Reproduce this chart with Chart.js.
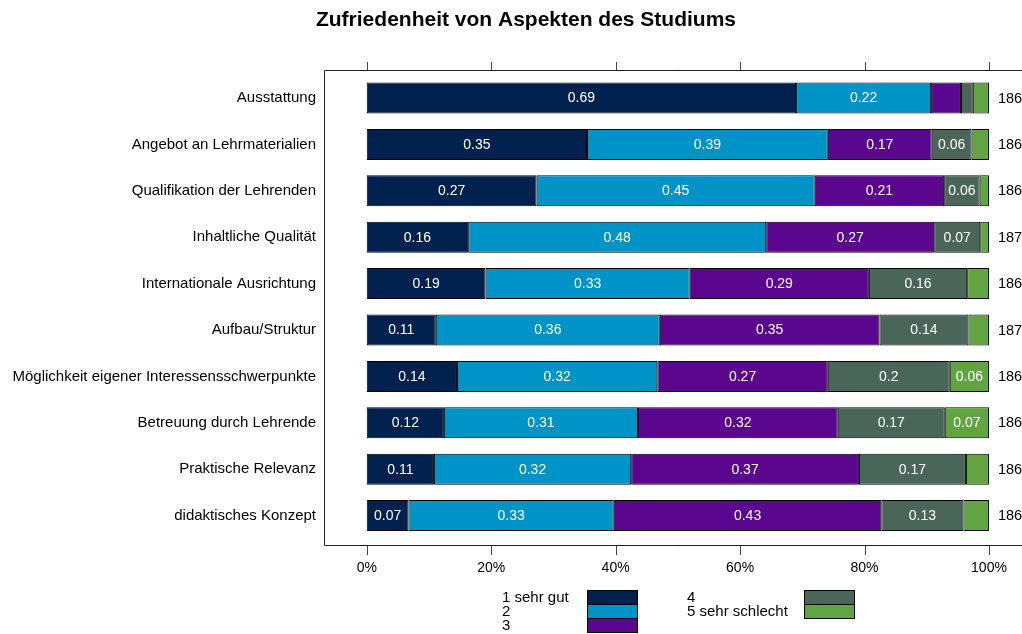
<!DOCTYPE html>
<html><head><meta charset="utf-8">
<script src="https://cdn.jsdelivr.net/npm/chart.js@4/dist/chart.umd.min.js"></script>
<style>html,body{margin:0;padding:0;background:#fff;}</style>
</head><body>
<canvas id="c" width="1022" height="634"></canvas>
<script>
const categories = ['Ausstattung','Angebot an Lehrmaterialien','Qualifikation der Lehrenden','Inhaltliche Qualität','Internationale Ausrichtung','Aufbau/Struktur','Möglichkeit eigener Interessensschwerpunkte','Betreuung durch Lehrende','Praktische Relevanz','didaktisches Konzept'];
const seriesNames = ['1 sehr gut','2','3','4','5 sehr schlecht'];
const s1 = [0.690,0.354,0.273,0.163,0.191,0.111,0.145,0.124,0.108,0.067];
const s2 = [0.217,0.387,0.447,0.479,0.328,0.360,0.322,0.312,0.317,0.330];
const s3 = [0.048,0.167,0.208,0.270,0.288,0.353,0.274,0.321,0.366,0.430];
const s4 = [0.019,0.064,0.057,0.074,0.158,0.143,0.196,0.172,0.172,0.132];
const s5 = [0.026,0.028,0.015,0.014,0.035,0.033,0.063,0.071,0.037,0.041];
const counts = [186,186,186,187,186,187,186,186,186,186];
const xTicks = [0,0.2,0.4,0.6,0.8,1];
const title = 'Zufriedenheit von Aspekten des Studiums';
const colors = ['#00214D','#0093C8','#5A068E','#4A6659','#62A442'];
const FONT = "'Liberation Sans', Arial, sans-serif";

const series = [s1,s2,s3,s4,s5];
const fmt = v => String(Math.round(v*100)/100);

const decor = {
  id: 'decor',
  afterDatasetsDraw(chart) {
    const ctx = chart.ctx;
    const xs = chart.scales.x, ys = chart.scales.y;
    ctx.save();
    // value labels
    ctx.font = '14px ' + FONT;
    ctx.textAlign = 'center';
    ctx.textBaseline = 'middle';
    ctx.fillStyle = '#fff';
    chart.data.datasets.forEach((ds, i) => {
      const meta = chart.getDatasetMeta(i);
      meta.data.forEach((el, j) => {
        const v = ds.data[j];
        if (v >= 0.055) ctx.fillText(fmt(v), (el.x + el.base) / 2, el.y + 0.5);
      });
    });
    // counts
    ctx.fillStyle = '#000';
    ctx.textAlign = 'left';
    ctx.font = '14.5px ' + FONT;
    counts.forEach((n, j) => ctx.fillText(String(n), xs.getPixelForValue(1) + 9, ys.getPixelForValue(j) + 0.5));
    // frame
    const top = ys.getPixelForValue(0) - 28, bottom = ys.getPixelForValue(categories.length - 1) + 29;
    const left = chart.chartArea.left, right = chart.width + 2;
    ctx.strokeStyle = '#222';
    ctx.lineWidth = 1;
    ctx.beginPath();
    ctx.moveTo(right, Math.round(top) + 0.5);
    ctx.lineTo(Math.round(left) + 0.5, Math.round(top) + 0.5);
    ctx.lineTo(Math.round(left) + 0.5, Math.round(bottom) + 0.5);
    ctx.lineTo(right, Math.round(bottom) + 0.5);
    ctx.stroke();
    // tick marks
    ctx.strokeStyle = '#444';
    xTicks.forEach(v => {
      const px = Math.round(xs.getPixelForValue(v)) + 0.5;
      ctx.beginPath();
      ctx.moveTo(px, Math.round(top) - 8); ctx.lineTo(px, Math.round(top));
      ctx.moveTo(px, Math.round(bottom) + 1); ctx.lineTo(px, Math.round(bottom) + 10);
      ctx.stroke();
    });
    // title
    ctx.fillStyle = '#000';
    ctx.font = 'bold 21px ' + FONT;
    ctx.textAlign = 'center';
    ctx.fillText(title, 526, 20);
    // legend
    ctx.font = '15px ' + FONT;
    ctx.textAlign = 'left';
    const leg = [
      {tx: 502, bx: 587, y: 590}, {tx: 502, bx: 587, y: 604}, {tx: 502, bx: 587, y: 618},
      {tx: 687, bx: 804, y: 590}, {tx: 687, bx: 804, y: 604}
    ];
    seriesNames.forEach((name, i) => {
      const p = leg[i];
      ctx.fillStyle = colors[i];
      ctx.fillRect(p.bx, p.y, 50, 14);
      ctx.strokeStyle = '#000';
      ctx.strokeRect(p.bx + 0.5, p.y + 0.5, 50, 14);
      ctx.fillStyle = '#000';
      ctx.fillText(name, p.tx, p.y + 7.5);
    });
    ctx.restore();
  }
};

new Chart(document.getElementById('c'), {
  type: 'bar',
  data: {
    labels: categories,
    datasets: series.map((d, i) => ({
      label: seriesNames[i],
      data: d,
      backgroundColor: colors[i],
      borderColor: '#000',
      borderWidth: 1,
      borderSkipped: false,
      barPercentage: 0.668,
      categoryPercentage: 1
    }))
  },
  options: {
    indexAxis: 'y',
    responsive: false,
    devicePixelRatio: 1,
    animation: false,
    layout: { padding: { top: 74.8, bottom: 59.2, left: 0, right: 0 } },
    plugins: { legend: { display: false }, title: { display: false }, tooltip: { enabled: false } },
    scales: {
      x: {
        type: 'linear', stacked: true, min: -0.0695, max: 1.0531,
        grid: { display: false, drawTicks: false }, border: { display: false },
        afterBuildTicks: s => { s.ticks = xTicks.map(v => ({ value: v })); },
        afterFit: s => { s.height = 36; s.paddingLeft = 0; s.paddingRight = 0; },
        ticks: { padding: 21, color: '#000', font: { size: 14, family: FONT }, maxRotation: 0, autoSkip: false,
          callback: v => Math.round(v * 100) + '%' }
      },
      y: {
        type: 'category', stacked: true, offset: true,
        grid: { display: false, drawTicks: false }, border: { display: false },
        afterFit: s => { s.width = 323.5; s.paddingTop = 0; s.paddingBottom = 0; },
        ticks: { padding: 7.5, color: '#000', font: { size: 15, family: FONT }, autoSkip: false }
      }
    }
  },
  plugins: [decor]
});
</script>
</body></html>
